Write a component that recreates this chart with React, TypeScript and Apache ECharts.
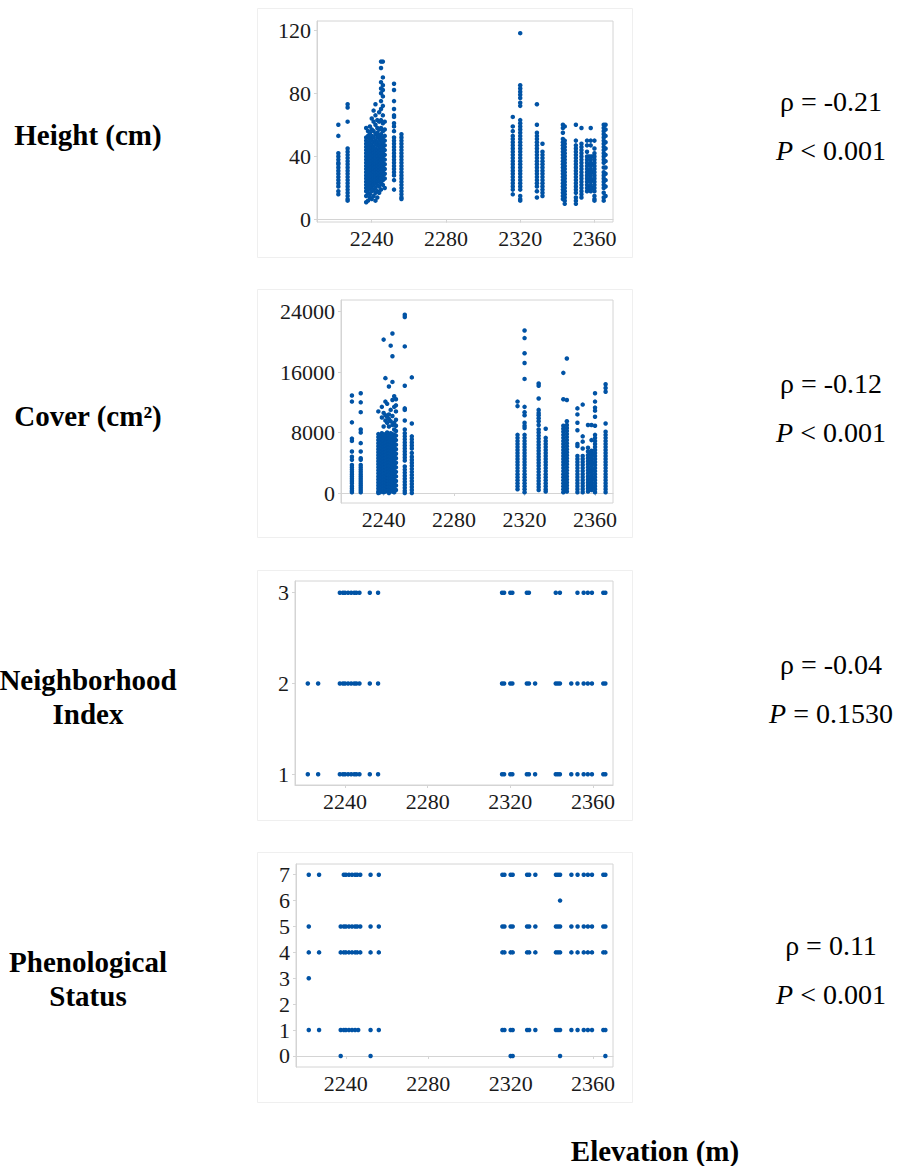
import React, { useEffect, useRef } from 'react';
import * as echarts from 'echarts';

// ---------- DATA ----------
const xTickLabels = [2240, 2280, 2320, 2360];
const heightTicks = [0, 40, 80, 120];
const coverTicks = [0, 8000, 16000, 24000];
const neighborhoodTicks = [1, 2, 3];
const phenologyTicks = [0, 1, 2, 3, 4, 5, 6, 7];

const rowLabels = ['Height (cm)', 'Cover (cm²)', 'Neighborhood\nIndex', 'Phenological\nStatus'];
const rhoTexts = ['ρ = -0.21', 'ρ = -0.12', 'ρ = -0.04', 'ρ = 0.11'];
const pTexts = ['< 0.001', '< 0.001', '= 0.1530', '< 0.001'];
const xAxisTitle = 'Elevation (m)';

const heightSites = [2222, 2227, 2237, 2238, 2239, 2240, 2241, 2242, 2243, 2244, 2245, 2246, 2247, 2252, 2256,
  2316, 2320, 2329, 2332, 2343, 2344, 2350, 2353, 2356, 2357, 2358, 2359, 2360, 2365, 2366];
const heightValues = [
  [60, 53, 42, 40, 38, 36, 35, 33, 31, 29, 27, 25, 23, 21, 18, 16],
  [73, 71, 62, 45, 43, 41, 39, 37, 35, 33, 31, 29, 27, 25, 23, 21, 19, 17, 15, 13, 12],
  [58, 52, 50, 48, 46, 44, 42, 40, 38, 36, 34, 32, 30, 28, 26, 24, 22, 20, 18, 15, 11],
  [56, 53, 49, 47, 45, 43, 41, 39, 37, 35, 33, 31, 29, 27, 25, 23, 21, 19, 17, 12],
  [59, 55, 51, 48, 46, 44, 42, 40, 38, 36, 34, 32, 30, 28, 26, 24, 22, 20, 16, 14],
  [64, 57, 53, 50, 47, 45, 43, 41, 39, 37, 35, 33, 31, 29, 27, 25, 23, 21, 18, 13],
  [69, 62, 56, 52, 49, 46, 44, 42, 40, 38, 36, 34, 32, 30, 28, 26, 24, 22, 19, 15],
  [73, 66, 60, 54, 50, 48, 45, 43, 41, 39, 37, 35, 33, 31, 29, 27, 25, 23, 20, 17, 12],
  [63, 58, 55, 52, 49, 47, 44, 42, 40, 38, 36, 34, 32, 30, 28, 26, 24, 22, 18, 14],
  [68, 62, 57, 53, 50, 47, 45, 43, 41, 39, 37, 35, 33, 31, 29, 27, 25, 21, 17],
  [100, 96, 87, 83, 80, 75, 70, 63, 58, 54, 51, 48, 46, 44, 42, 40, 38, 36, 34, 32, 30, 28, 26, 23, 19],
  [100, 90, 85, 82, 78, 72, 66, 61, 56, 52, 49, 46, 44, 42, 40, 38, 36, 34, 32, 30, 28, 25, 22],
  [62, 57, 53, 50, 47, 44, 41, 38, 35, 32, 29, 26, 20],
  [86, 82, 75, 70, 66, 65, 61, 59, 56, 52, 50, 48, 46, 44, 42, 40, 38, 36, 34, 32, 30, 28, 25, 19],
  [54, 52, 50, 48, 46, 44, 42, 40, 38, 36, 34, 32, 30, 28, 26, 24, 22, 20, 18, 16, 14, 13],
  [65, 59, 56, 53, 51, 49, 47, 45, 43, 41, 39, 37, 35, 33, 31, 29, 27, 25, 23, 21, 19, 16],
  [118, 85, 83, 81, 79, 77, 74, 72, 63, 61, 59, 57, 55, 53, 51, 49, 47, 45, 43, 41, 39, 37, 35, 33, 31, 29, 27, 25, 23, 21, 19, 15, 13, 12],
  [73, 60, 55, 53, 51, 49, 47, 45, 43, 41, 39, 37, 35, 33, 31, 29, 27, 25, 23, 21, 18, 14],
  [48, 43, 41, 39, 37, 35, 33, 31, 29, 27, 25, 23, 21, 19, 17, 15],
  [60, 58, 55, 51, 49, 47, 45, 43, 41, 39, 37, 35, 33, 31, 29, 27, 25, 23, 21, 19, 17, 15, 13],
  [59, 50, 48, 46, 44, 42, 40, 38, 36, 34, 32, 30, 28, 26, 24, 22, 20, 18, 16, 14, 12, 10],
  [60, 50, 47, 45, 43, 41, 39, 37, 35, 33, 31, 29, 27, 25, 23, 21, 19, 17, 14, 12, 10],
  [58, 48, 46, 44, 42, 40, 38, 36, 34, 32, 30, 28, 26, 24, 22, 20, 18, 16, 14],
  [50, 47, 43, 40, 38, 36, 34, 32, 30, 28, 26, 24, 22, 20, 18],
  [40, 35, 30, 25, 20],
  [58, 50, 47, 40, 38, 36, 34, 32, 30, 28, 26, 24, 22, 20, 18],
  [40, 35, 30, 25, 20],
  [50, 45, 42, 40, 38, 36, 34, 32, 30, 28, 26, 24, 22, 20, 18, 15, 13, 12],
  [60, 58, 56, 54, 52, 50, 48, 46, 44, 42, 40, 38, 36, 33, 30, 28, 26, 24, 22, 20, 17, 14, 12],
  [60, 57, 53, 49, 45, 41, 37, 33, 29, 25, 21, 15],
];

const coverSites = [2222, 2227, 2237, 2238, 2239, 2240, 2241, 2242, 2243, 2244, 2245, 2246, 2247, 2252, 2256,
  2316, 2320, 2328, 2332, 2342, 2344, 2350, 2353, 2356, 2357, 2358, 2359, 2360, 2366];
const coverValues = [
  [12900, 12100, 9350, 7200, 6900, 5500, 4800, 4400, 3700, 3400, 3100, 2800, 2500, 2200, 1900, 1600, 1300, 900, 600, 300, 100],
  [13200, 12000, 10700, 8400, 8000, 6600, 5500, 4600, 4400, 3700, 3400, 3100, 2800, 2500, 2200, 1900, 1600, 1300, 1000, 700, 400, 100],
  [10800, 7800, 7400, 7000, 6600, 6200, 5800, 5400, 5000, 4600, 4200, 3800, 3400, 3000, 2600, 2200, 1800, 1400, 1000, 600, 200, 0],
  [7600, 7200, 6800, 6400, 6000, 5600, 5200, 4800, 4400, 4000, 3600, 3200, 2800, 2400, 2000, 1600, 1200, 800, 400, 100],
  [11400, 10000, 7900, 7500, 7100, 6700, 6300, 5900, 5500, 5100, 4700, 4300, 3900, 3500, 3100, 2700, 2300, 1900, 1500, 1100, 700, 300],
  [20300, 10600, 8800, 7700, 7300, 6900, 6500, 6100, 5700, 5300, 4900, 4500, 4100, 3700, 3300, 2900, 2500, 2100, 1700, 1300, 900, 500, 100],
  [15200, 12100, 10300, 9600, 7800, 7400, 7000, 6600, 6200, 5800, 5400, 5000, 4600, 4200, 3800, 3400, 3000, 2600, 2200, 1800, 1400, 1000, 600, 200],
  [11800, 10100, 9300, 8000, 7500, 7100, 6700, 6300, 5900, 5500, 5100, 4700, 4300, 3900, 3500, 3100, 2700, 2300, 1900, 1500, 1100, 700, 300],
  [14100, 10400, 9800, 8800, 7600, 7200, 6800, 6400, 6000, 5600, 5200, 4800, 4400, 4000, 3600, 3200, 2800, 2400, 2000, 1600, 1200, 800, 400, 0],
  [19500, 11000, 9500, 7900, 7500, 7100, 6700, 6300, 5900, 5500, 5100, 4700, 4300, 3900, 3500, 3100, 2700, 2300, 1900, 1500, 1100, 700, 300],
  [21100, 18100, 14700, 12300, 10200, 9000, 7800, 7400, 7000, 6600, 6200, 5800, 5400, 5000, 4600, 4200, 3800, 3400, 3000, 2600, 2200, 1800, 1400, 1000, 600, 200],
  [12800, 11400, 9300, 8400, 7700, 7300, 6900, 6500, 6100, 5700, 5300, 4900, 4500, 4100, 3700, 3300, 2900, 2500, 2100, 1700, 1300, 900, 500, 100],
  [12400, 11600, 10800, 9700, 8900, 8200, 7600, 7000, 6400, 5800, 5200, 4600, 4000, 3400, 2800, 2200, 1600, 1000, 400],
  [23600, 23300, 19400, 14200, 11200, 11000, 9600, 8400, 7900, 7500, 7100, 6700, 6300, 5900, 5500, 5100, 4700, 4300, 3500, 3100, 2700, 2300, 1900, 1500, 1100, 700, 300, 0],
  [15300, 9200, 7500, 7100, 6700, 6300, 5900, 5300, 4800, 4400, 4000, 3600, 3200, 2800, 2400, 2000, 1600, 1200, 800, 400, 0],
  [12100, 11500, 7700, 7300, 6900, 6500, 6100, 5700, 5300, 4900, 4500, 4100, 3700, 3300, 2900, 2500, 2100, 1700, 1300, 900, 500],
  [21500, 20500, 18500, 17200, 15100, 11400, 10700, 10300, 9300, 8900, 8600, 7700, 7300, 6900, 6500, 6100, 5700, 5300, 4900, 4500, 4100, 3700, 3300, 2900, 2500, 2100, 1700, 1300, 900, 500, 100],
  [14500, 14200, 12500, 11000, 10600, 10300, 9900, 9500, 9000, 8400, 8000, 7600, 7200, 6800, 6400, 6000, 5600, 5200, 4800, 4400, 4000, 3600, 3200, 2800, 2400, 2000, 1600, 1200, 800, 400],
  [8500, 7300, 6900, 6500, 6100, 5700, 5300, 4900, 4500, 4100, 3700, 3300, 2900, 2500, 2100, 1700, 1300, 900, 500, 200],
  [15900, 12400, 8900, 8500, 8100, 7700, 7300, 6900, 6500, 6100, 5700, 5300, 4900, 4500, 4100, 3700, 3300, 2900, 2500, 2100, 1700, 1300, 900, 500, 100],
  [17800, 12300, 9500, 9000, 8600, 8200, 7800, 7400, 7000, 6600, 6200, 5800, 5400, 5000, 4600, 4200, 3800, 3400, 3000, 2600, 2200, 1800, 1400, 1000, 600, 200],
  [11200, 10400, 9300, 8300, 6500, 6200, 4900, 4500, 4100, 3700, 3300, 2900, 2500, 2100, 1700, 1300, 900, 500, 100],
  [11700, 7500, 6800, 5900, 4900, 4500, 4100, 3700, 3300, 2900, 2500, 2100, 1700, 1300, 900, 500, 100],
  [9000, 6000, 5500, 5000, 4600, 4200, 3800, 3400, 3000, 2600, 2200, 1800, 1400, 1000, 600, 200],
  [5400, 4000, 3000, 2000, 1000],
  [9000, 7000, 5600, 5200, 4800, 4400, 4000, 3600, 3200, 2800, 2400, 2000, 1600, 1200, 800, 400],
  [5200, 4000, 3000, 2000, 800],
  [13200, 12100, 11300, 10900, 10100, 8900, 7700, 7300, 6900, 6500, 6100, 5700, 5300, 4900, 4500, 4100, 3700, 3300, 2900, 2500, 2100, 1700, 1300, 900, 500, 100],
  [14400, 13900, 13400, 9200, 8100, 7700, 7300, 6900, 6500, 6100, 5700, 5300, 4900, 4500, 4100, 3700, 3300, 2900, 2500, 2100, 1700, 1300, 900, 500, 100],
];

const niLevels = [3, 2, 1];
const niSites = [
  [2237.5, 2239, 2240, 2241.5, 2243, 2244.5, 2245.5, 2247, 2252, 2256, 2316, 2317, 2320, 2321, 2328, 2329, 2342, 2344, 2352.5, 2355.5, 2357.5, 2359.5, 2365, 2366],
  [2222, 2227, 2237.5, 2239, 2240, 2241.5, 2243, 2244.5, 2245.5, 2247, 2252, 2256, 2316, 2317, 2320, 2321, 2328, 2329, 2332, 2342, 2343, 2344, 2349.5, 2352.5, 2355.5, 2357.5, 2359.5, 2365, 2366],
  [2222, 2227, 2237.5, 2239, 2240, 2241.5, 2243, 2244.5, 2245.5, 2247, 2252, 2256, 2316, 2317, 2320, 2321, 2328, 2329, 2332, 2342, 2343, 2344, 2349.5, 2352.5, 2355.5, 2357.5, 2359.5, 2365, 2366],
];

const phenoLevels = [7, 6, 5, 4, 3, 1, 0];
const phenoSites = [
  [2222, 2227, 2239, 2240, 2241.5, 2243, 2244.5, 2245.5, 2247, 2252, 2256, 2316, 2317, 2320, 2321, 2328, 2329, 2332, 2342, 2343, 2344, 2349.5, 2352.5, 2355.5, 2357.5, 2359.5, 2365, 2366],
  [2344],
  [2222, 2237.5, 2239, 2240, 2241.5, 2243, 2244.5, 2245.5, 2247, 2252, 2256, 2316, 2317, 2320, 2321, 2328, 2329, 2332, 2342, 2343, 2344, 2349.5, 2352.5, 2355.5, 2357.5, 2359.5, 2365, 2366],
  [2222, 2227, 2237.5, 2239, 2240, 2241.5, 2243, 2244.5, 2245.5, 2247, 2252, 2256, 2316, 2317, 2320, 2321, 2328, 2329, 2332, 2342, 2343, 2344, 2349.5, 2352.5, 2355.5, 2357.5, 2359.5, 2365, 2366],
  [2222],
  [2222, 2227, 2237.5, 2239, 2240, 2241.5, 2243, 2244.5, 2246, 2252, 2256, 2316, 2317, 2320, 2321, 2328, 2329, 2332, 2342, 2343, 2344, 2349.5, 2352.5, 2355.5, 2357.5, 2359.5, 2365, 2366],
  [2237.5, 2252, 2320, 2321, 2344, 2366],
];

// ---------- STYLE / LAYOUT ----------
const FONT = '"Liberation Serif", "Times New Roman", Times, serif';
const DOT = '#0153a5';
const AXIS_GRAY = '#d4d4d4';

const panels = [
  { left: 317, top: 21, width: 296, height: 201, xMin: 2210.5, xMax: 2370, yMin: -1.5, yMax: 125.7, yTicks: heightTicks, fs: 22, box: [257, 8, 375, 249] },
  { left: 341, top: 300, width: 272, height: 203, xMin: 2215.8, xMax: 2370.2, yMin: -1320, yMax: 25540, yTicks: coverTicks, fs: 22, box: [257, 289, 375, 248] },
  { left: 295, top: 581, width: 318, height: 204, xMin: 2215.8, xMax: 2369.7, yMin: 0.882, yMax: 3.129, yTicks: neighborhoodTicks, fs: 22, box: [257, 570, 375, 250] },
  { left: 296, top: 864, width: 317, height: 203, xMin: 2215.8, xMax: 2369.7, yMin: -0.426, yMax: 7.413, yTicks: phenologyTicks, fs: 22, box: [257, 852, 375, 250] },
];
const rowLabelY = [135, 416, 697, 979];
const statY = [101, 383, 664, 945];

function columns(sites: number[], values: number[][]) {
  return sites.flatMap((s, i) => values[i].map((v) => [s, v]));
}
function levels(lv: number[], sites: number[][]) {
  return lv.flatMap((l, i) => sites[i].map((s) => [s, l]));
}
const plain = (v: number) => String(Math.round(v));

export default function App() {
  const ref = useRef<HTMLDivElement>(null);
  useEffect(() => {
    if (!ref.current) return;
    const chart = echarts.init(ref.current, undefined, { renderer: 'svg' });
    const datasets = [
      columns(heightSites, heightValues),
      columns(coverSites, coverValues),
      levels(niLevels, niSites),
      levels(phenoLevels, phenoSites),
    ];
    const graphic: any[] = [];
    panels.forEach((p, i) => {
      graphic.push({
        type: 'rect', silent: true, z: -1,
        shape: { x: p.box[0] + 0.5, y: p.box[1] + 0.5, width: p.box[2], height: p.box[3] },
        style: { fill: 'none', stroke: '#efefef', lineWidth: 1 },
      });
      graphic.push({
        type: 'text', x: 88, y: rowLabelY[i],
        style: {
          text: rowLabels[i], fontFamily: FONT, fontSize: 29, fontWeight: 'bold', fill: '#000',
          align: 'center', verticalAlign: 'middle', lineHeight: 34,
        },
      });
      graphic.push({
        type: 'text', x: 831, y: statY[i],
        style: { text: rhoTexts[i], fontFamily: FONT, fontSize: 28, fill: '#000', align: 'center', verticalAlign: 'middle' },
      });
      graphic.push({
        type: 'text', x: 831, y: statY[i] + 49,
        style: {
          text: '{i|P} ' + pTexts[i], fontFamily: FONT, fontSize: 28, fill: '#000', align: 'center', verticalAlign: 'middle',
          rich: { i: { fontFamily: FONT, fontSize: 28, fontStyle: 'italic', fill: '#000' } },
        },
      });
    });
    graphic.push({
      type: 'text', x: 655, y: 1151,
      style: { text: xAxisTitle, fontFamily: FONT, fontSize: 29, fontWeight: 'bold', fill: '#000', align: 'center', verticalAlign: 'middle' },
    });

    chart.setOption({
      animation: false,
      backgroundColor: '#ffffff',
      grid: panels.map((p) => ({
        left: p.left, top: p.top, width: p.width, height: p.height,
        show: true, borderColor: AXIS_GRAY, borderWidth: 1, containLabel: false,
      })),
      xAxis: panels.map((p, i) => ({
        type: 'value', gridIndex: i, min: p.xMin, max: p.xMax,
        axisLine: { show: true, lineStyle: { color: AXIS_GRAY } },
        axisTick: { show: true, length: 3, customValues: xTickLabels, lineStyle: { color: AXIS_GRAY } },
        axisLabel: { customValues: xTickLabels, formatter: plain, color: '#1a1a1a', fontFamily: FONT, fontSize: p.fs, margin: 5 },
        splitLine: { show: false },
      })),
      yAxis: panels.map((p, i) => ({
        type: 'value', gridIndex: i, min: p.yMin, max: p.yMax,
        axisLine: { show: true, lineStyle: { color: AXIS_GRAY } },
        axisTick: { show: true, length: 3, customValues: p.yTicks, lineStyle: { color: AXIS_GRAY } },
        axisLabel: { customValues: p.yTicks, formatter: plain, color: '#1a1a1a', fontFamily: FONT, fontSize: p.fs, margin: 6 },
        splitLine: { show: false },
      })),
      series: datasets.map((d, i) => ({
        type: 'scatter', xAxisIndex: i, yAxisIndex: i, data: d,
        symbolSize: 4.5, itemStyle: { color: DOT, opacity: 1 }, silent: true,
      })),
      graphic,
    });
    return () => chart.dispose();
  }, []);
  return <div ref={ref} style={{ position: 'absolute', left: 0, top: 0, width: 903, height: 1166 }} />;
}
